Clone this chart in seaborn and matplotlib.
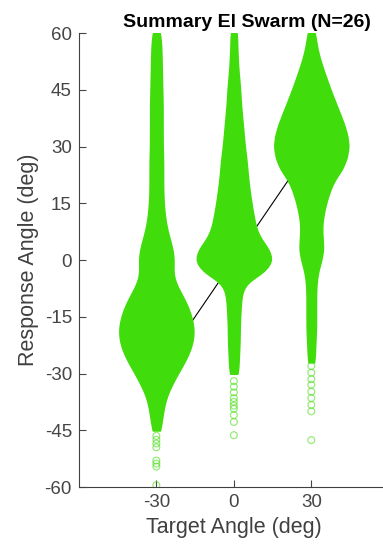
import numpy as np
import pandas as pd
import matplotlib
matplotlib.use("Agg")
import matplotlib.pyplot as plt
import seaborn as sns

# ---------------- data ----------------
targets = [-30, 0, 30]
# response levels (deg), top to bottom, 3-degree steps
levels = list(range(60, -61, -3))
# relative density (swarm width) at each level, per target
dens_m30 = [8, 9, 10, 10, 11, 11, 12, 12, 12, 12, 12, 13, 13, 13, 13, 14, 16, 19, 25, 32,
            36, 31, 36, 50, 62, 70, 75, 74, 67, 56, 42, 30, 19, 14, 11, 8, 0, 0, 0, 0, 0]
dens_0 = [6, 6, 7, 8, 10, 12, 13, 15, 17, 19, 21, 24, 26, 28, 31, 34, 38, 42, 50, 68,
          77, 62, 22, 15, 13, 12, 11, 11, 10, 9, 8, 0, 0, 0, 0, 0, 0, 0, 0, 0, 0]
dens_p30 = [7, 10, 15, 22, 30, 38, 47, 56, 65, 72, 75, 71, 62, 45, 36, 29, 24, 21, 22, 24,
            20, 13, 10, 9, 9, 9, 9, 8, 7, 6, 0, 0, 0, 0, 0, 0, 0, 0, 0, 0, 0]
# sparse tail responses drawn as single hollow circles
tail_m30 = [-46.5, -47.5, -48.5, -49.5, -53.0, -53.8, -54.6, -59.5]
tail_0 = [-32.0, -33.5, -35.0, -36.5, -37.5, -38.5, -39.3, -41.0, -42.8, -46.3]
tail_p30 = [-28.0, -29.8, -31.5, -33.0, -34.8, -36.5, -38.3, -40.0, -47.6]

title = "Summary El Swarm (N=26)"
xlabel = "Target Angle (deg)"
ylabel = "Response Angle (deg)"
yticks = [-60, -45, -30, -15, 0, 15, 30, 45, 60]

# ---------------- build table ----------------
rows = []
for t, d in zip(targets, [dens_m30, dens_0, dens_p30]):
    vals = np.repeat(levels, d)
    rows.append(pd.DataFrame({"target": t, "response": vals}))
df = pd.concat(rows, ignore_index=True)
tails = pd.DataFrame({
    "target": [-30] * len(tail_m30) + [0] * len(tail_0) + [30] * len(tail_p30),
    "response": tail_m30 + tail_0 + tail_p30,
})

green = "#41DC0C"
fig = plt.figure(figsize=(3.83, 5.5), dpi=100)
ax = fig.add_axes([0.206, 0.1145, 0.809, 0.8255])

sns.set_style("white")
plt.rcParams["font.family"] = ["Liberation Sans", "DejaVu Sans"]

# identity line (beneath swarms)
ax.plot(targets, targets, color="black", lw=0.8, zorder=0.5)

sns.violinplot(data=df, x="target", y="response", native_scale=True,
               density_norm="width", cut=0, inner=None, bw_method=0.1,
               width=0.95, color=green, linecolor=green, linewidth=1.4,
               saturation=1, ax=ax, zorder=2)
sns.scatterplot(data=tails, x="target", y="response", marker="o", s=24,
                facecolors="none", edgecolors=green, linewidth=0.9,
                alpha=0.55, ax=ax, zorder=3)

ax.set_xlim(-60, 60)
ax.set_ylim(-60, 60)
ax.set_xticks(targets)
ax.set_yticks(yticks)
ax.set_xticklabels([str(t) for t in targets], fontsize=13.5,
                   family="Liberation Sans", color="#454545")
ax.set_yticklabels([str(t) for t in yticks], fontsize=13.5,
                   family="Liberation Sans", color="#454545")
ax.tick_params(direction="in", length=5, width=0.8, colors="#454545", pad=5)
for s in ["top", "right"]:
    ax.spines[s].set_visible(False)
for s in ["left", "bottom"]:
    ax.spines[s].set_color("#404040")
    ax.spines[s].set_linewidth(0.8)
ax.set_xlabel(xlabel, fontsize=15.5, family="Liberation Sans", color="#404040", labelpad=4)
ax.set_ylabel(ylabel, fontsize=15.5, family="Liberation Sans", color="#404040", labelpad=4)
ax.set_title(title, fontsize=14, fontweight="bold", family="Liberation Sans",
             color="black", pad=4, x=0.542)
ax.patch.set_visible(False)

fig.savefig("out.png", dpi=100)
